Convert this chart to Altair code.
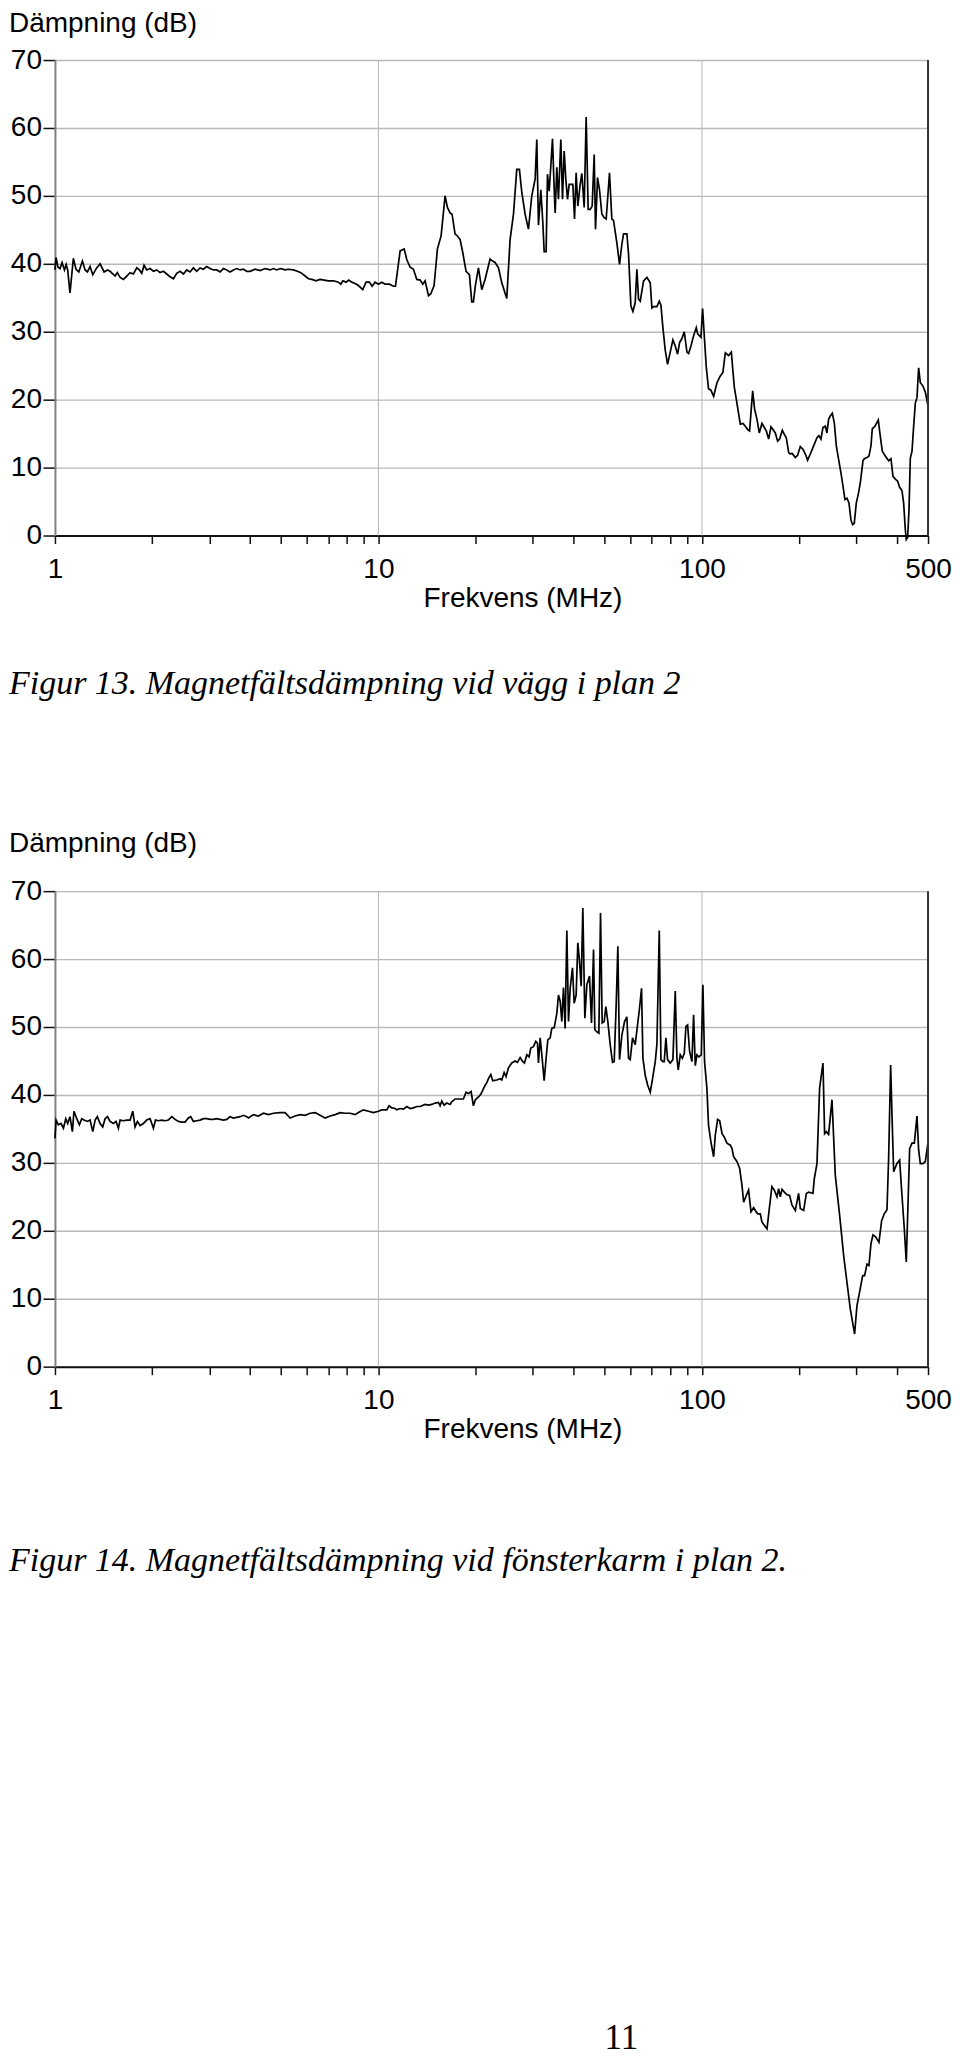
import altair as alt
import pandas as pd

# ---------------- data ----------------
F1 = [1.000, 1.008, 1.022, 1.037, 1.052, 1.070, 1.083, 1.095, 1.113, 1.140, 1.162, 1.185, 1.216, 1.239, 1.260,
      1.284, 1.309, 1.346, 1.379, 1.419, 1.453, 1.480, 1.534, 1.559, 1.590, 1.628, 1.667, 1.707, 1.748, 1.790,
      1.824, 1.855, 1.886, 1.922, 1.968, 2.016, 2.064, 2.113, 2.164, 2.216, 2.269, 2.324, 2.379, 2.436, 2.495,
      2.555, 2.616, 2.679, 2.743, 2.810, 2.877, 2.946, 3.017, 3.089, 3.164, 3.240, 3.317, 3.397, 3.478, 3.562,
      3.648, 3.735, 3.825, 3.917,
      4.011, 4.156, 4.307, 4.463, 4.626, 4.737, 4.850, 4.990, 5.146, 5.270, 5.461, 5.619, 5.754, 5.935, 6.078,
      6.223, 6.417, 6.602, 6.793, 7.008, 7.261, 7.523, 7.649, 7.760, 7.945, 8.098, 8.272, 8.469, 8.673, 8.944,
      9.158, 9.378, 9.558, 9.766, 10.00, 10.24, 10.49, 10.81, 11.13, 11.29, 11.67, 12.01, 12.24, 12.53, 12.83,
      13.14, 13.46, 13.71, 13.94, 14.28, 14.52, 14.86, 15.22, 15.62, 16.07, 16.34, 16.65, 16.89, 17.25, 17.54,
      17.88, 18.22, 18.66, 19.11, 19.43, 19.66, 19.94, 20.38, 20.87, 21.36, 22.14,
      22.40, 22.94, 23.50, 24.06, 24.93, 25.53, 26.15, 26.77, 27.28, 27.75, 28.41, 29.09, 29.79, 30.51, 30.87,
      31.24, 31.77, 32.23, 32.53, 32.99, 33.31, 33.71, 34.11, 34.52, 34.94, 35.18, 35.60, 36.02, 36.63, 37.07,
      37.51, 37.95, 38.41, 38.87, 39.90, 40.38, 40.85, 41.34, 42.04, 42.54, 43.26, 43.87, 44.50, 45.14, 45.79,
      46.45, 46.89, 47.57, 48.24, 49.06, 49.88, 50.59, 51.80, 52.67, 53.30, 54.58, 55.63, 56.57, 57.24, 58.62,
      59.32, 60.31, 61.18, 62.20, 62.94, 63.69, 64.46, 66.01, 67.59, 69.22, 70.05, 70.88, 72.58, 73.81, 74.69,
      75.75, 77.02, 78.31, 79.81, 81.34, 82.71, 84.10, 85.30, 86.73, 88.19, 89.88, 90.95, 92.48, 94.25, 96.06,
      96.98, 98.37, 99.31, 100.5, 101.7, 103.1, 104.8, 106.6, 108.7, 111.3, 114.0, 116.1,
      118.1, 120.9, 123.3, 125.9, 128.3, 131.4, 134.0, 136.2, 138.5, 140.4, 143.5, 145.5, 148.0, 150.4, 153.3,
      155.9, 158.1, 160.8, 163.5, 165.8, 168.6, 171.4, 173.9, 177.2, 179.8, 182.3, 185.4, 187.6, 189.8, 194.4,
      197.6, 201.4, 205.3, 208.8, 212.2, 216.3, 221.5, 226.8, 230.0, 233.3, 236.7, 240.6, 243.5, 246.4, 249.4,
      253.0, 256.6, 260.3, 264.6, 269.1, 272.9, 276.8, 280.8, 284.8, 288.9, 292.3, 295.8, 300.1, 304.4, 308.8,
      314.7, 317.7, 323.8, 328.4, 333.1, 336.2, 342.7, 350.9, 356.0, 361.1, 368.8, 377.7, 384.1, 389.6, 396.2,
      402.8, 408.5, 415.4, 420.3, 425.3, 428.3, 432.5, 436.7, 440.8, 446.1, 451.4, 456.8, 462.2, 467.7, 473.3,
      482.4, 490.5, 500.0]
D1 = [39.1, 40.9, 39.5, 39.3, 40.2, 39.1, 39.9, 39.1, 35.7, 40.8, 39.2, 38.8, 40.4, 39.1, 38.8,
      39.6, 38.4, 39.4, 40.0, 38.8, 39.1, 38.9, 38.2, 38.7, 38.0, 37.7, 38.2, 38.7, 38.5, 39.4,
      39.1, 38.6, 39.8, 39.1, 39.3, 38.9, 39.1, 38.7, 38.9, 38.5, 38.1, 37.8, 38.6, 38.9, 38.5,
      39.1, 38.8, 39.4, 38.9, 39.4, 39.2, 39.6, 39.3, 39.1, 39.1, 38.8, 39.3, 39.1, 38.8, 39.1,
      39.3, 39.1, 39.2, 38.9,
      38.9, 39.2, 39.0, 39.3, 39.1, 39.3, 39.1, 39.3, 39.1, 39.2, 39.1, 38.9, 38.7, 38.2, 37.8,
      37.7, 37.5, 37.7, 37.6, 37.5, 37.5, 37.3, 37.0, 37.5, 37.3, 37.6, 37.3, 37.1, 36.8, 36.2,
      37.3, 37.3, 36.7, 37.3, 37.0, 37.3, 37.0, 37.0, 36.7, 36.7, 41.9, 42.2, 40.6, 39.5, 39.2,
      37.7, 37.6, 37.0, 37.5, 35.3, 35.6, 36.8, 42.2, 44.1, 50.0, 48.3, 47.5, 47.3, 44.4, 44.1,
      43.6, 41.7, 38.9, 38.4, 34.4, 34.4, 36.8, 39.4, 36.2, 37.7, 40.7,
      40.5, 40.2, 39.4, 37.2, 34.9, 43.6, 47.3, 53.9, 53.9, 50.5, 47.3, 45.1, 50.0, 52.5, 58.3,
      45.7, 50.9, 46.0, 41.8, 41.8, 53.2, 50.7, 54.4, 58.4, 51.0, 47.5, 54.2, 49.5, 58.3, 49.5,
      56.6, 52.5, 49.5, 51.7, 51.7, 46.6, 53.4, 48.5, 51.7, 53.3, 48.3, 61.6, 48.0, 48.0, 48.5,
      56.1, 45.1, 52.7, 50.9, 47.3, 46.8, 46.6, 53.4, 46.6, 46.4, 43.1, 39.9, 42.9, 44.4, 44.4,
      41.4, 33.8, 33.0, 34.3, 39.2, 34.8, 34.5, 37.5, 38.0, 37.2, 33.5, 33.7, 33.7, 34.5, 33.9,
      30.6, 27.3, 25.2, 27.0, 28.8, 27.9, 26.7, 28.4, 29.0, 30.0, 27.0, 26.8, 27.9, 29.4, 30.6,
      29.7, 29.4, 29.2, 33.4, 29.4, 24.9, 21.6, 21.4, 20.5, 22.5, 23.5, 24.0,
      26.9, 26.5, 27.0, 21.9, 19.5, 16.4, 16.5, 16.1, 15.6, 15.4, 21.3, 18.6, 17.1, 15.1, 16.5,
      15.9, 15.4, 14.2, 16.0, 15.6, 15.1, 13.9, 14.2, 15.5, 14.9, 14.4, 12.2, 12.0, 12.1, 11.5,
      11.8, 13.1, 12.7, 12.0, 11.1, 12.0, 13.2, 14.4, 14.7, 14.2, 15.9, 16.1, 15.1, 17.1, 17.6,
      18.0, 16.6, 13.2, 11.2, 9.2, 7.3, 5.3, 5.5, 4.8, 2.3, 1.6, 1.8, 4.8, 6.1, 7.8,
      11.0, 11.3, 11.5, 11.7, 13.2, 15.7, 16.1, 17.0, 14.6, 12.4, 11.7, 11.0, 11.3, 8.7, 8.3,
      8.0, 7.1, 6.6, 4.8, 0.9, -0.6, -0.3, 3.8, 11.4, 12.4, 16.1, 19.5, 20.3, 24.7, 22.5,
      22.0, 21.1, 19.1]

F2 = [1.000, 1.008, 1.025, 1.044, 1.062, 1.080, 1.095, 1.113, 1.132, 1.145, 1.168, 1.190, 1.210, 1.230, 1.260,
      1.284, 1.309, 1.331, 1.352, 1.379, 1.405, 1.429, 1.453, 1.480, 1.516, 1.545, 1.571, 1.590, 1.628, 1.667,
      1.707, 1.740, 1.769, 1.799, 1.833, 1.877, 1.922, 1.968, 2.016, 2.045, 2.089, 2.138, 2.190, 2.242, 2.296,
      2.352, 2.407, 2.465, 2.525, 2.585, 2.629, 2.679, 2.743, 2.810, 2.877, 2.946, 3.017, 3.089, 3.164, 3.240,
      3.317, 3.397, 3.478, 3.562, 3.648, 3.735, 3.825, 3.917,
      3.964, 4.107, 4.256, 4.410, 4.572, 4.737, 4.966, 5.146, 5.333, 5.527, 5.727, 5.935, 6.150, 6.373, 6.602,
      6.842, 7.091, 7.348, 7.613, 7.889, 8.175, 8.469, 8.673, 8.987, 9.312, 9.649, 10.00, 10.24, 10.61, 10.79,
      11.00, 11.26, 11.39, 11.67, 11.95, 12.24, 12.53, 12.83, 13.14, 13.46, 13.94, 14.28, 14.62, 14.97, 15.33,
      15.51, 15.70, 15.96, 16.26, 16.65, 16.85, 17.25, 17.88, 18.31, 18.66, 18.97, 19.34, 19.66, 19.94, 20.38,
      20.72, 21.11, 21.36, 21.63, 21.88,
      22.25, 22.56, 23.22, 23.78, 24.06, 24.47, 24.81, 25.23, 25.83, 26.46, 26.90, 27.42, 27.95, 28.28, 28.75,
      29.23, 29.58, 30.15, 30.65, 31.02, 31.24, 31.62, 32.00, 32.53, 32.99, 33.39, 33.95, 34.35, 34.94, 35.60,
      36.02, 36.46, 36.89, 37.33, 37.77, 38.23, 38.69, 39.15, 39.80, 40.28, 40.85, 41.34, 41.84, 42.34, 42.84,
      43.46, 44.08, 44.92, 45.57, 46.23, 46.67, 47.34, 48.02, 48.59, 49.17, 49.88, 50.47, 51.19, 52.05, 52.92,
      53.56, 54.32, 54.97, 55.63, 56.57, 57.65, 58.62, 59.32, 60.02, 61.02, 62.20, 63.24, 64.15, 65.07, 65.70,
      66.80, 67.91, 69.22, 70.38, 71.73, 72.58, 73.81, 74.69, 75.75, 76.47, 77.39, 78.31, 79.81, 81.34, 82.71,
      83.70, 84.50, 85.71, 86.94, 88.19, 89.24, 90.31, 91.60, 93.14, 94.25, 95.37, 96.52, 97.90, 99.54, 100.7,
      101.9, 103.6, 104.8, 106.6, 108.7, 110.0, 111.8, 113.5, 115.4, 117.3, 119.5, 122.4,
      123.9, 125.3, 128.3, 130.8, 133.0, 134.6, 137.1, 139.4, 141.8, 144.5, 146.2, 148.7, 151.5, 153.3, 155.9,
      158.9, 161.6, 164.6, 167.4, 170.6, 172.6, 174.7, 176.8, 179.8, 183.2, 186.7, 189.8, 194.4, 199.0, 201.4,
      206.3, 210.3, 213.7, 217.3, 220.4, 222.6, 226.8, 231.1, 236.7, 239.5, 242.3, 246.4, 252.4, 258.4, 266.5,
      274.2, 280.8, 287.5, 296.5, 301.5, 307.3, 314.0, 318.4, 323.8, 328.4, 333.1, 337.9, 344.4, 352.6, 359.4,
      366.2, 373.3, 377.7, 383.2, 386.9, 391.5, 400.9, 408.5, 415.4, 422.3, 428.3, 438.7, 446.1, 453.6, 462.2,
      467.7, 473.3, 482.4, 490.5, 500.0]
D2 = [33.6, 36.3, 35.6, 35.8, 35.1, 36.5, 35.8, 36.8, 34.6, 37.6, 36.5, 35.6, 36.5, 36.3, 36.1,
      36.3, 34.6, 36.3, 36.8, 35.8, 35.3, 36.5, 36.8, 36.1, 35.8, 36.1, 35.1, 36.3, 36.2, 36.3,
      36.3, 37.6, 35.3, 36.1, 35.5, 35.8, 36.3, 36.5, 35.1, 36.3, 36.2, 36.3, 36.2, 36.3, 36.8,
      36.4, 36.1, 36.0, 36.0, 36.6, 36.8, 36.1, 36.2, 36.3, 36.5, 36.5, 36.4, 36.4, 36.5, 36.4,
      36.3, 36.4, 36.8, 36.6, 36.7, 36.8, 37.0, 36.8,
      36.6, 37.1, 36.9, 37.3, 37.1, 37.3, 37.4, 37.4, 36.6, 36.9, 37.1, 37.0, 37.3, 37.4, 37.0,
      36.6, 36.9, 37.1, 37.4, 37.3, 37.3, 37.1, 37.4, 37.8, 37.6, 37.4, 37.6, 37.8, 37.8, 38.4,
      38.1, 38.0, 37.8, 38.0, 37.9, 38.3, 38.0, 38.1, 38.3, 38.3, 38.6, 38.5, 38.6, 38.8, 38.9,
      38.4, 39.1, 38.5, 38.8, 38.6, 39.0, 39.4, 39.4, 39.4, 40.4, 40.2, 40.5, 38.4, 39.3, 39.7,
      40.1, 40.9, 41.4, 41.8, 42.4,
      43.0, 42.1, 42.2, 42.4, 42.2, 43.3, 42.7, 44.0, 44.7, 45.0, 44.8, 45.5, 44.9, 44.7, 45.9,
      45.6, 46.9, 47.1, 47.9, 47.6, 44.7, 48.4, 45.9, 42.1, 45.4, 48.1, 48.4, 49.8, 49.9, 52.0,
      54.7, 53.8, 50.8, 55.8, 49.8, 64.2, 50.8, 55.7, 58.7, 53.5, 54.7, 62.4, 59.7, 56.0, 67.5,
      51.3, 56.2, 57.5, 50.6, 61.4, 49.6, 49.3, 49.1, 66.8, 50.6, 50.8, 53.0, 50.8, 47.4, 44.8,
      44.9, 53.3, 61.9, 45.2, 48.8, 50.8, 51.5, 45.4, 45.2, 48.4, 47.4, 50.3, 52.8, 55.7, 45.4,
      42.9, 41.5, 40.4, 42.4, 44.9, 47.4, 64.2, 45.2, 44.9, 44.9, 48.4, 45.2, 44.7, 45.2, 55.3,
      45.4, 43.7, 45.9, 45.4, 46.1, 50.1, 50.3, 46.4, 44.9, 51.8, 44.3, 45.9, 45.6, 45.9, 56.2,
      44.9, 41.0, 35.6, 33.1, 30.9, 34.1, 36.4, 36.2, 34.3, 33.8, 32.9, 32.6,
      32.1, 30.9, 30.2, 29.2, 26.7, 24.2, 25.2, 26.0, 22.8, 23.4, 23.0, 22.5, 22.5, 21.3, 20.8,
      20.3, 23.3, 26.5, 26.0, 25.0, 26.2, 25.0, 26.1, 25.7, 25.3, 25.2, 23.8, 23.0, 25.5, 23.3,
      23.0, 25.5, 25.7, 25.6, 25.5, 27.7, 29.9, 41.0, 44.7, 34.3, 34.6, 34.2, 39.3, 28.2, 22.3,
      16.4, 12.4, 8.5, 4.8, 9.0, 11.0, 13.4, 13.4, 15.1, 14.9, 18.1, 19.4, 19.1, 18.3, 21.5,
      22.5, 23.1, 30.6, 44.4, 37.0, 28.7, 29.9, 30.4, 25.2, 20.3, 15.4, 32.1, 32.9, 32.9, 36.9,
      31.9, 29.9, 29.9, 30.2, 33.0]

X_TICKS = [1, 2, 3, 4, 5, 6, 7, 8, 9, 10, 20, 30, 40, 50, 60, 70, 80, 90, 100, 200, 300, 400, 500]
X_LABELED = [1, 10, 100, 500]
Y_TICKS = [0, 10, 20, 30, 40, 50, 60, 70]
V_GRID = [10, 100]

Y_TITLE = "Dämpning (dB)"
X_TITLE = "Frekvens (MHz)"
CAPTION_1 = "Figur 13. Magnetfältsdämpning vid vägg i plan 2"
CAPTION_2 = "Figur 14. Magnetfältsdämpning vid fönsterkarm i plan 2."
PAGE_NO = "11"

# ---------------- styling ----------------
SANS = "Liberation Sans"
SERIF = "Liberation Serif"
W, H = 874, 476
TX = -46  # left edge of title and caption, relative to the plot


def panel(freq, damp, caption, title_y, cap_y, page_y=None):
    df = pd.DataFrame({"f": freq, "d": damp})
    xscale = alt.Scale(type="log", domain=[1, 500], nice=False)
    yscale = alt.Scale(domain=[0, 70], nice=False, zero=False)
    label_test = "indexof(" + str(X_LABELED) + ", datum.value) >= 0"
    xaxis = alt.Axis(
        values=X_TICKS, labelExpr=label_test + " ? format(datum.value, 'd') : ''",
        labelFont=SANS, labelFontSize=28, labelColor="black", labelPadding=12,
        labelOverlap=False, labelFlush=False, labelBound=False,
        tickSize=8, tickColor="#111", tickWidth=1.5,
        domainColor="#111", domainWidth=2, grid=False,
        title=X_TITLE, titleFont=SANS, titleFontSize=28, titleFontWeight="normal",
        titleColor="black", titleX=468, titleY=71, titleAlign="center",
        titleBaseline="alphabetic",
    )
    yaxis = alt.Axis(
        values=Y_TICKS, title=None, labelFont=SANS, labelFontSize=28,
        labelColor="black", labelPadding=1.5, tickSize=12, tickColor="#111",
        tickWidth=1.5, domainColor="#808080", domainWidth=2,
        grid=True, gridColor="#b9b9b9", gridWidth=1.4,
    )
    x = alt.X("f:Q", scale=xscale, axis=xaxis)
    y = alt.Y("d:Q", scale=yscale, axis=yaxis)

    vgrid = alt.Chart(pd.DataFrame({"f": V_GRID})).mark_rule(
        color="#bdbdbd", strokeWidth=1.1).encode(x=alt.X("f:Q", scale=xscale))
    rborder = alt.Chart(pd.DataFrame({"f": [500]})).mark_rule(
        color="#333", strokeWidth=2).encode(x=alt.X("f:Q", scale=xscale))
    line = alt.Chart(df).mark_line(color="black", strokeWidth=1.7).encode(x=x, y=y)

    ytitle = alt.Chart(pd.DataFrame({"t": [Y_TITLE]})).mark_text(
        align="left", baseline="alphabetic", font=SANS, fontSize=28, color="black"
    ).encode(x=alt.value(TX), y=alt.value(title_y), text="t:N")
    cap = alt.Chart(pd.DataFrame({"t": [caption]})).mark_text(
        align="left", baseline="alphabetic", font=SERIF, fontSize=34,
        fontStyle="italic", color="black"
    ).encode(x=alt.value(TX), y=alt.value(cap_y), text="t:N")
    layers = [vgrid, line, rborder, ytitle, cap]
    if page_y is not None:
        pg = alt.Chart(pd.DataFrame({"t": [PAGE_NO]})).mark_text(
            align="center", baseline="alphabetic", font=SERIF, fontSize=35, color="black"
        ).encode(x=alt.value(567), y=alt.value(page_y), text="t:N")
        layers.append(pg)
    return alt.layer(*layers).properties(width=W, height=H)


p1 = panel(F1, D1, CAPTION_1, -28, 635)
p2 = panel(F2, D2, CAPTION_2, -39, 681, page_y=1159)

chart = alt.vconcat(p1, p2, spacing=356, bounds="flush").properties(
    padding={"left": 0, "top": 0, "right": 0, "bottom": 0}
).configure_view(stroke="#808080", strokeWidth=2).configure(font=SANS)

chart.save("out.html", embed_options={"renderer": "svg", "actions": False})
